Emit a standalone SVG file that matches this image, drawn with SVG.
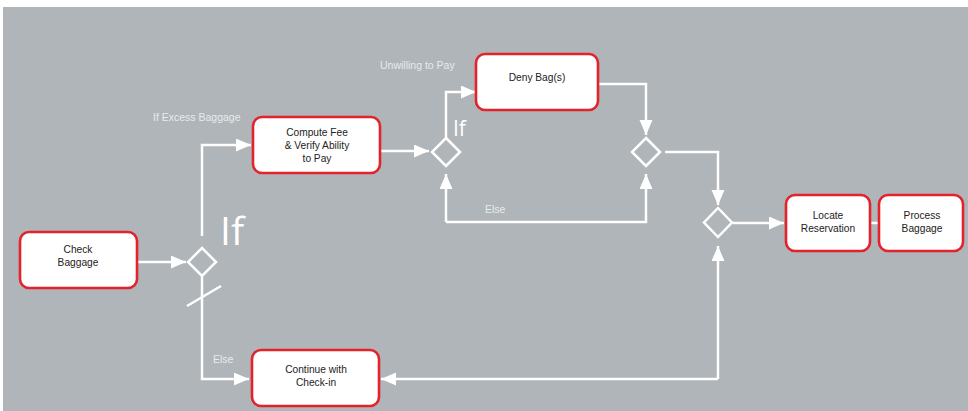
<svg xmlns="http://www.w3.org/2000/svg" width="968" height="411" viewBox="0 0 968 411">
<style>
.box{fill:#fff;stroke:#e3222b;stroke-width:2.6}
.nt{font-family:"Liberation Sans",Arial,sans-serif;font-size:10.2px;fill:#222;text-anchor:middle}
.lb{font-family:"Liberation Sans",Arial,sans-serif;font-size:10.5px;fill:#e8ebed}
.big{font-family:"Open Sans","Liberation Sans",Arial,sans-serif;font-weight:400;fill:#fff}
.ln{fill:none;stroke:#fff;stroke-width:2.5}
.dm{fill:none;stroke:#fff;stroke-width:2.5}
</style>
<defs>
<marker id="ah" markerUnits="userSpaceOnUse" markerWidth="16" markerHeight="14" refX="15" refY="6.5" orient="auto">
<path d="M0,0 L15,6.5 L0,13 z" fill="#fff"/>
</marker>
</defs>
<rect x="0" y="0" width="968" height="411" fill="#fff"/>
<rect x="3" y="7" width="965" height="404" fill="#afb5b8"/>

<g id="connectors">
<line class="ln" x1="137" y1="262" x2="186" y2="262" marker-end="url(#ah)"/>
<polyline class="ln" points="202,236 202,145 251,145" marker-end="url(#ah)"/>
<polyline class="ln" points="202,277 202,379 249,379" marker-end="url(#ah)"/>
<line class="ln" x1="187" y1="306" x2="221" y2="286"/>
<line class="ln" x1="380" y1="151" x2="429" y2="151" marker-end="url(#ah)"/>
<polyline class="ln" points="446,138 446,92 476,92" marker-end="url(#ah)"/>
<polyline class="ln" points="598,84 646,84 646,135" marker-end="url(#ah)"/>
<polyline class="ln" points="446,222 446,174" marker-end="url(#ah)"/>
<polyline class="ln" points="446,222 646,222 646,174" marker-end="url(#ah)"/>
<polyline class="ln" points="665,152 718,152 718,205" marker-end="url(#ah)"/>
<line class="ln" x1="733" y1="223" x2="784" y2="223" marker-end="url(#ah)"/>
<line class="ln" x1="870" y1="223" x2="880" y2="223"/>
<polyline class="ln" points="718,379 718,246" marker-end="url(#ah)"/>
<polyline class="ln" points="718,379 381,379" marker-end="url(#ah)"/>
</g>

<g id="check-baggage">
<rect class="box" x="20" y="232" width="117" height="56" rx="9"/>
<text class="nt" x="78" y="253">Check</text>
<text class="nt" x="78" y="266">Baggage</text>
</g>
<g id="decision-1">
<path class="dm" d="M202,248 L216,262 L202,276 L188,262 z"/>
<text class="big" x="220" y="245" font-size="39">If</text>
</g>
<g id="compute-fee">
<rect class="box" x="253" y="117" width="127" height="56" rx="9"/>
<text class="nt" x="317" y="136">Compute Fee</text>
<text class="nt" x="317" y="149">&amp; Verify Ability</text>
<text class="nt" x="317" y="162">to Pay</text>
</g>
<g id="decision-2">
<path class="dm" d="M446,138 L460,152 L446,166 L432,152 z"/>
<text class="big" x="453" y="136" font-size="21">If</text>
</g>
<g id="deny-bags">
<rect class="box" x="476" y="54" width="122" height="56" rx="9"/>
<text class="nt" x="537" y="81">Deny Bag(s)</text>
</g>
<g id="merge-1">
<path class="dm" d="M646,138 L660,152 L646,166 L632,152 z"/>
</g>
<g id="merge-2">
<path class="dm" d="M718,208 L732,222.5 L718,237 L704,222.5 z"/>
</g>
<g id="locate-reservation">
<rect class="box" x="786" y="195" width="84" height="56" rx="9"/>
<text class="nt" x="828" y="219">Locate</text>
<text class="nt" x="828" y="232">Reservation</text>
</g>
<g id="process-baggage">
<rect class="box" x="879" y="195" width="84" height="56" rx="9"/>
<text class="nt" x="922" y="219">Process</text>
<text class="nt" x="922" y="232">Baggage</text>
</g>
<g id="continue-checkin">
<rect class="box" x="252" y="350" width="127" height="56" rx="9"/>
<text class="nt" x="316" y="373">Continue with</text>
<text class="nt" x="316" y="386">Check-in</text>
</g>

<g id="labels">
<text class="lb" x="153" y="121">If Excess Baggage</text>
<text class="lb" x="380" y="69">Unwilling to Pay</text>
<text class="lb" x="485" y="213">Else</text>
<text class="lb" x="213" y="363">Else</text>
</g>
</svg>
